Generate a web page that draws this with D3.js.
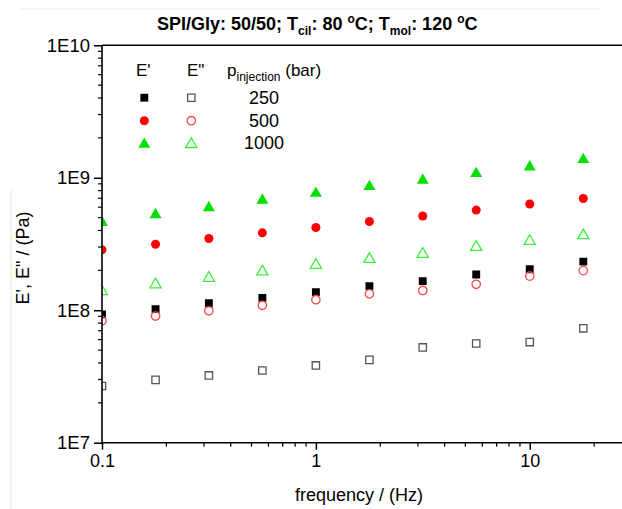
<!DOCTYPE html>
<html><head><meta charset="utf-8">
<script src="https://cdn.jsdelivr.net/npm/d3@7"></script>
<style>body{margin:0;background:#fff}svg{display:block;font-family:"Liberation Sans",Arial,sans-serif}</style>
</head><body>
<script>
const freq = [0.1, 0.178, 0.316, 0.562, 1, 1.78, 3.16, 5.62, 10, 17.8];
const E1_250  = [9.3e7, 1.02e8, 1.13e8, 1.24e8, 1.37e8, 1.52e8, 1.66e8, 1.86e8, 2.04e8, 2.33e8];
const E2_250  = [2.68e7, 2.98e7, 3.22e7, 3.51e7, 3.83e7, 4.22e7, 5.24e7, 5.61e7, 5.75e7, 7.3e7];
const E1_500  = [2.86e8, 3.15e8, 3.48e8, 3.84e8, 4.21e8, 4.68e8, 5.14e8, 5.7e8, 6.34e8, 6.98e8];
const E2_500  = [8.33e7, 9.04e7, 9.91e7, 1.09e8, 1.2e8, 1.33e8, 1.41e8, 1.57e8, 1.81e8, 1.99e8];
const E1_1000 = [4.68e8, 5.35e8, 6.04e8, 6.87e8, 7.76e8, 8.72e8, 9.72e8, 1.093e9, 1.228e9, 1.395e9];
const E2_1000 = [1.41e8, 1.59e8, 1.78e8, 1.99e8, 2.23e8, 2.47e8, 2.7e8, 3.05e8, 3.38e8, 3.73e8];
const xMajor = [0.1, 1, 10];
const xMajorLabels = ["0.1", "1", "10"];
const yMajor = [1e7, 1e8, 1e9, 1e10];
const yMajorLabels = ["1E7", "1E8", "1E9", "1E10"];
const pressures = ["250", "500", "1000"];

const series = [
  {vals: E1_250, shape: "square", fill: "#000", stroke: "#000", open: false},
  {vals: E2_250, shape: "square", fill: "none", stroke: "#555", open: true},
  {vals: E1_500, shape: "circle", fill: "#f00", stroke: "#f00", open: false},
  {vals: E2_500, shape: "circle", fill: "none", stroke: "#ff4a4a", open: true},
  {vals: E1_1000, shape: "triangle", fill: "#00e000", stroke: "#00e000", open: false},
  {vals: E2_1000, shape: "triangle", fill: "none", stroke: "#3cf03c", open: true}
];

const W = 622, H = 509;
const svg = d3.select("body").append("svg").attr("width", W).attr("height", H);
const x = d3.scaleLog().domain([0.1, 27]).range([102, 622]);
const y = d3.scaleLog().domain([1e7, 1e10]).range([442.7, 45.3]);

// faint scan artifacts
svg.append("line").attr("x1", 20).attr("x2", 600).attr("y1", 9).attr("y2", 9).attr("stroke", "#ececec");
svg.append("line").attr("x1", 11).attr("x2", 11).attr("y1", 190).attr("y2", 509).attr("stroke", "#e6e6e6");

const defs = svg.append("defs");
defs.append("clipPath").attr("id", "clip").append("rect").attr("x", 102).attr("y", 45.3).attr("width", 520).attr("height", 397.4);

// markers
const symSize = {square: 62, circle: 64, triangle: 62};
function symPath(shape, open) {
  const t = shape === "square" ? d3.symbolSquare : shape === "circle" ? d3.symbolCircle : d3.symbolTriangle;
  return d3.symbol().type(t).size(open ? symSize[shape] - 8 : symSize[shape])();
}
const pts = svg.append("g").attr("clip-path", "url(#clip)");
series.forEach(s => {
  pts.selectAll(null).data(s.vals.map((v, i) => [freq[i], v])).enter().append("path")
    .attr("d", symPath(s.shape, s.open))
    .attr("transform", d => `translate(${x(d[0])},${y(d[1]) + (s.shape === "triangle" ? 1 : 0)})`)
    .attr("fill", s.fill).attr("stroke", s.stroke).attr("stroke-width", s.open ? 1.3 : 0);
});

// axes
const xAxis = d3.axisBottom(x).tickValues(xMajor).tickFormat((d, i) => xMajorLabels[i]).tickSize(7).tickPadding(5);
const gx = svg.append("g").attr("transform", "translate(0,442.7)").call(xAxis);
gx.select(".domain").remove();
gx.selectAll("text").attr("font-size", 18).attr("fill", "#000").attr("font-family", "Liberation Sans, Arial, sans-serif");
gx.selectAll("line").attr("stroke", "#000").attr("stroke-width", 1.5);
const xMinor = [];
[0.1, 1, 10].forEach(d => { for (let k = 2; k <= 9; k++) if (d * k <= 27) xMinor.push(d * k); });
svg.append("g").selectAll("line").data(xMinor).enter().append("line")
  .attr("x1", d => x(d)).attr("x2", d => x(d)).attr("y1", 442.7).attr("y2", 446.7)
  .attr("stroke", "#000").attr("stroke-width", 1.2);

const yAxis = d3.axisLeft(y).tickValues(yMajor).tickFormat((d, i) => yMajorLabels[i]).tickSize(8).tickPadding(4);
const gy = svg.append("g").attr("transform", "translate(102,0)").call(yAxis);
gy.select(".domain").remove();
gy.selectAll("text").attr("font-size", 18.5).attr("fill", "#000").attr("font-family", "Liberation Sans, Arial, sans-serif");
gy.selectAll("line").attr("stroke", "#000").attr("stroke-width", 1.5);
const yMinor = [];
[1e7, 1e8, 1e9].forEach(d => { for (let k = 2; k <= 9; k++) yMinor.push(d * k); });
svg.append("g").selectAll("line").data(yMinor).enter().append("line")
  .attr("x1", 98).attr("x2", 102).attr("y1", d => y(d)).attr("y2", d => y(d))
  .attr("stroke", "#000").attr("stroke-width", 1.2);

// frame lines (left, bottom, top)
svg.append("line").attr("x1", 102).attr("x2", 102).attr("y1", 45.3).attr("y2", 442.7).attr("stroke", "#000").attr("stroke-width", 1.6);
svg.append("line").attr("x1", 102).attr("x2", 622).attr("y1", 442.7).attr("y2", 442.7).attr("stroke", "#000").attr("stroke-width", 1.6);
svg.append("line").attr("x1", 102).attr("x2", 622).attr("y1", 45.3).attr("y2", 45.3).attr("stroke", "#000").attr("stroke-width", 1.6);

// axis titles
svg.append("text").attr("x", 359).attr("y", 501).attr("text-anchor", "middle").attr("font-size", 18).text("frequency / (Hz)");
svg.append("text").attr("transform", "translate(29,258) rotate(-90)").attr("text-anchor", "middle").attr("font-size", 18).text("E', E\" / (Pa)");

// title
const title = svg.append("text").attr("x", 157).attr("y", 30).attr("font-size", 18).attr("font-weight", "bold");
title.append("tspan").text("SPI/Gly: 50/50; T");
title.append("tspan").attr("font-size", 12).attr("dy", 5).text("cil");
title.append("tspan").attr("dy", -5).text(": 80 ");
title.append("tspan").attr("font-size", 12).attr("dy", -7).text("o");
title.append("tspan").attr("dy", 7).text("C; T");
title.append("tspan").attr("font-size", 12).attr("dy", 5).text("mol");
title.append("tspan").attr("dy", -5).text(": 120 ");
title.append("tspan").attr("font-size", 12).attr("dy", -7).text("o");
title.append("tspan").attr("dy", 7).text("C");

// legend
const lg = svg.append("g");
lg.append("text").attr("x", 136).attr("y", 76).attr("font-size", 17).text("E'");
lg.append("text").attr("x", 187).attr("y", 76).attr("font-size", 17).text("E\"");
const ph = lg.append("text").attr("x", 227).attr("y", 76).attr("font-size", 17);
ph.append("tspan").text("p");
ph.append("tspan").attr("font-size", 12).attr("dy", 5).text("injection");
ph.append("tspan").attr("dy", -5).text(" (bar)");
const rowsY = [97.7, 120.7, 143.3];
pressures.forEach((p, i) => {
  const sF = series[i * 2], sO = series[i * 2 + 1];
  lg.append("path").attr("d", symPath(sF.shape, false))
    .attr("transform", `translate(144.3,${rowsY[i] + (sF.shape === "triangle" ? 1 : 0)})`).attr("fill", sF.fill);
  lg.append("path").attr("d", symPath(sO.shape, true))
    .attr("transform", `translate(191.3,${rowsY[i] + (sO.shape === "triangle" ? 1 : 0)})`)
    .attr("fill", "none").attr("stroke", sO.stroke).attr("stroke-width", 1.3);
  lg.append("text").attr("x", 264).attr("y", rowsY[i] + 6).attr("text-anchor", "middle").attr("font-size", 18).text(p);
});
</script>
</body></html>
